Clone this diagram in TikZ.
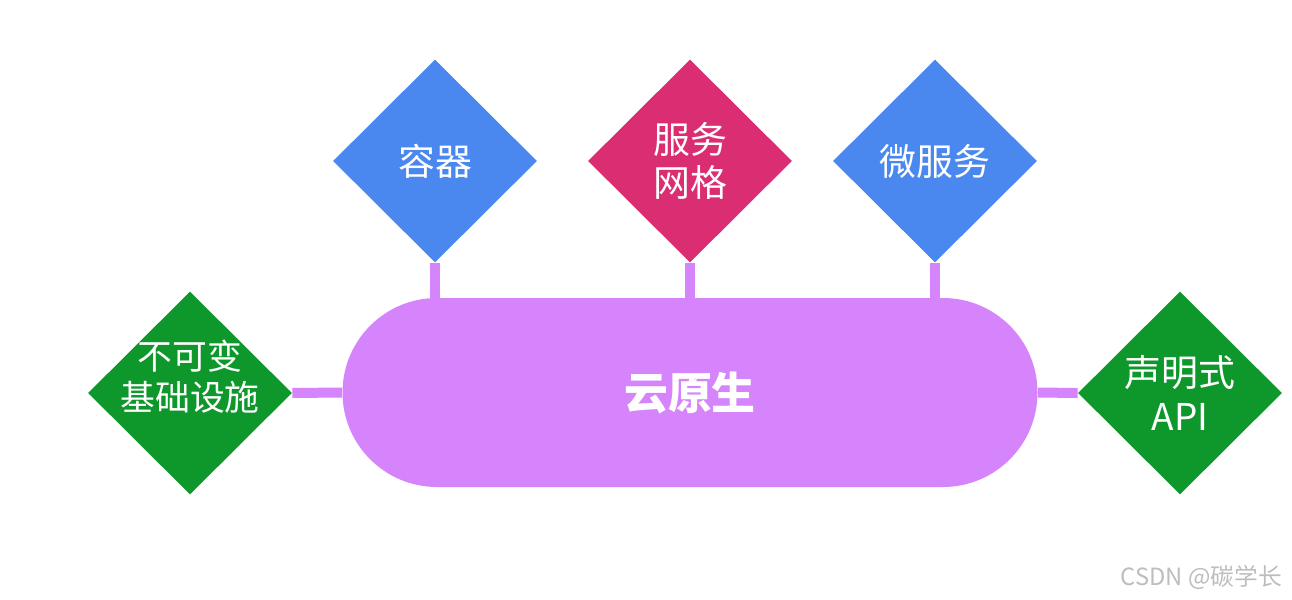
\documentclass[tikz,border=0pt]{standalone}
\usepackage{fontspec}
\setmainfont{Noto Sans CJK SC}
\usepackage{tikz}
\usetikzlibrary{shapes.geometric}
\definecolor{cnblue}{HTML}{4A88F0}
\definecolor{cnred}{HTML}{DB2D72}
\definecolor{cngreen}{HTML}{0E982C}
\definecolor{cnpurple}{HTML}{D684FC}
\definecolor{mark}{HTML}{BDBDBD}
\tikzset{
  diam/.style={diamond, aspect=1, minimum width=4.08cm, minimum height=4.06cm,
               inner sep=-1cm, align=center, text=white,
               font=\fontsize{21pt}{25pt}\selectfont},
  pill/.style={fill=cnpurple, rounded corners=1.89cm, minimum width=13.9cm,
               minimum height=3.78cm, text=white,
               font=\fontsize{25pt}{30pt}\selectfont\bfseries},
  link/.style={draw=cnpurple, line width=0.2cm},
  tag/.style={font=\fontsize{13.5pt}{15pt}\selectfont, text=mark, anchor=east},
}
\begin{document}
\begin{tikzpicture}
  \useasboundingbox (0,0) rectangle (25.84,-11.98);
  \node[pill] (core) at (13.8,-7.85) {云原生};
  \node[diam, fill=cnblue] (ctr) at (8.7,-3.22) {容器};
  \node[diam, fill=cnred] (mesh) at (13.8,-3.22) {服务\\网格};
  \node[diam, fill=cnblue] (micro) at (18.7,-3.22) {微服务};
  \node[diam, fill=cngreen, font=\fontsize{19.8pt}{23.5pt}\selectfont,
        text depth=0.7cm] (infra) at (3.8,-7.86) {不可变\\基础设施};
  \node[diam, fill=cngreen] (decl) at (23.6,-7.86) {声明式\\API};
  \draw[link] (ctr.south) -- (ctr.south |- core.north);
  \draw[link] (mesh.south) -- (core.north);
  \draw[link] (micro.south) -- (micro.south |- core.north);
  \draw[link] (infra.east) -- (core.west);
  \draw[link] (core.east) -- (decl.west);
  \node[tag] (wm) at (25.76,-11.55) {CSDN @碳学长};
\end{tikzpicture}
\end{document}
